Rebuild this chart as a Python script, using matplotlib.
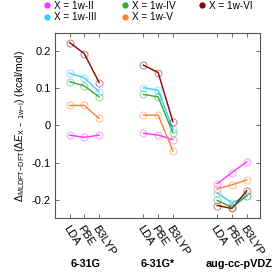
import matplotlib
matplotlib.use("Agg")
import matplotlib.pyplot as plt
import numpy as np

plt.rcParams['font.family'] = ['Liberation Sans', 'DejaVu Sans']
plt.rcParams['mathtext.fontset'] = 'custom'
plt.rcParams['mathtext.rm'] = 'Liberation Sans'
plt.rcParams['mathtext.it'] = 'Liberation Sans:italic'

methods = ["LDA", "PBE", "B3LYP"]
basis_sets = ["6-31G", "6-31G*", "aug-cc-pVDZ"]
series_names = ["X = 1w-II", "X = 1w-III", "X = 1w-IV", "X = 1w-V", "X = 1w-VI"]
colors = ["#ff33ff", "#33ccff", "#33aa33", "#ff8033", "#8b0000"]

# values per series: [basis][method]
w2 = [[-0.026, -0.032, -0.026], [-0.021, -0.026, -0.038], [-0.157, -0.127, -0.098]]
w3 = [[0.141, 0.129, 0.091], [0.102, 0.095, -0.009], [-0.182, -0.209, -0.191]]
w4 = [[0.118, 0.107, 0.077], [0.084, 0.077, -0.020], [-0.202, -0.221, -0.190]]
w5 = [[0.054, 0.054, 0.019], [0.028, 0.028, -0.069], [-0.171, -0.160, -0.147]]
w6 = [[0.224, 0.194, 0.116], [0.163, 0.143, 0.010], [-0.216, -0.224, -0.176]]
series = [w2, w3, w4, w5, w6]

yticks = [-0.2, -0.1, 0, 0.1, 0.2]
ytick_labels = ["-0.2", "-0.1", "0", "0.1", "0.2"]

fig = plt.figure(figsize=(2.74, 2.74), dpi=100)
ax = fig.add_axes([0.200, 0.204, 0.749, 0.676])

group_starts = [0, 5, 10]
handles = []
for name, col, data in zip(series_names, colors, series):
    for g, start in enumerate(group_starts):
        xs = np.arange(len(methods)) + start
        ax.plot(xs, data[g], color=col, lw=1.0, zorder=2)
        ax.plot(xs, data[g], ls='none', marker='o', ms=5, mfc='none',
                mec=col, mew=0.8, alpha=0.45, zorder=3)
    h, = ax.plot([], [], ls='none', marker='o', ms=3.5, color=col, label=name)
    handles.append(h)

ax.set_xlim(-1, 12.9)
ax.set_ylim(-0.25, 0.25)
xt = np.concatenate([np.arange(3) + s for s in group_starts])
ax.set_xticks(xt)
ax.set_xticklabels(methods * 3, rotation=-57, ha='left', va='top',
                   rotation_mode='anchor', fontsize=8)
ax.set_yticks(yticks)
ax.set_yticklabels(ytick_labels, fontsize=8)
ax.tick_params(direction='in', top=True, right=True, length=3, width=0.6,
               color='#555555', pad=3)
ax.tick_params(axis='x', pad=4)
for sp in ax.spines.values():
    sp.set_color('#555555')
    sp.set_linewidth(0.8)

ax.set_ylabel(r'$\Delta_{\mathrm{MLDFT\!-\!DFT}}(\Delta E_{\mathrm{X\ -\ 1w\!-\!I}})$ (kcal/mol)',
              fontsize=7.5, labelpad=3)

group_centers = [1.1, 6.0, 11.5]
for name, c in zip(basis_sets, group_centers):
    ax.text(c, -0.373, name, transform=ax.transData, ha='center', va='center',
            fontsize=7.8, fontweight='bold', clip_on=False)

# legend in three fixed columns
col_groups = [[0, 1], [2, 3], [4]]
col_x = [44 / 274, 122 / 274, 199 / 274]
for idxs, x0 in zip(col_groups, col_x):
    fig.legend(handles=[handles[i] for i in idxs], loc='upper left',
               bbox_to_anchor=(x0, 0.998), frameon=False, fontsize=7.2,
               handlelength=0.6, handletextpad=0.4, labelspacing=0.15,
               borderaxespad=0, borderpad=0)

fig.savefig("out.png", dpi=100)
